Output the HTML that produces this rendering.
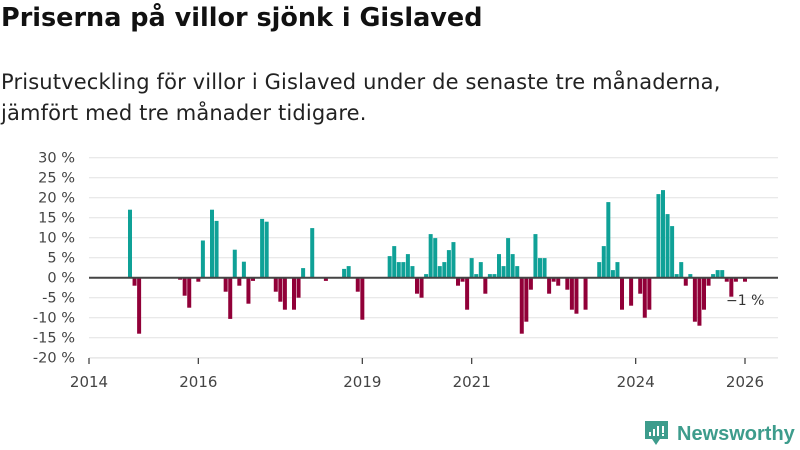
<!DOCTYPE html>
<html><head><meta charset="utf-8">
<style>
body{margin:0;background:#fff;font-family:"DejaVu Sans","Liberation Sans",sans-serif;}
#wrap{position:relative;width:800px;height:450px;overflow:hidden;}
h1{position:absolute;left:1px;top:3px;margin:0;font-size:25.5px;font-weight:bold;color:#111;letter-spacing:0px;}
.sub{position:absolute;left:1px;top:67px;margin:0;font-size:21px;line-height:31px;color:#222;letter-spacing:0.15px;}
svg{position:absolute;left:0;top:0;}
</style></head>
<body>
<div id="wrap">
<h1>Priserna på villor sjönk i Gislaved</h1>
<p class="sub">Prisutveckling för villor i Gislaved under de senaste tre månaderna,<br>jämfört med tre månader tidigare.</p>
<svg id="chart" width="800" height="450"></svg>
</div>
<script>
// months since Jan 2014
const months = [9,10,11,20,21,22,24,25,27,28,30,31,32,33,34,35,36,38,39,41,42,43,45,46,47,49,52,56,57,59,60,66,67,68,69,70,71,72,73,74,75,76,77,78,79,80,81,82,83,84,85,86,87,88,89,90,91,92,93,94,95,96,97,98,99,100,101,102,103,105,106,107,109,112,113,114,115,116,117,119,121,122,123,125,126,127,128,129,130,131,132,133,134,135,136,137,138,139,140,141,142,144];
const values = [17,-2,-14,-0.5,-4.5,-7.5,-1,9.3,17,14.2,-3.5,-10.3,7,-2,4,-6.5,-0.8,14.7,14,-3.5,-6,-8,-8,-5,2.4,12.4,-0.8,2.2,2.9,-3.5,-10.5,5.4,7.9,3.9,3.9,5.9,2.9,-4,-5,0.9,10.9,9.9,2.9,3.9,6.9,8.9,-2,-1,-8,4.9,0.9,3.9,-4,0.9,0.9,5.9,2.9,9.9,5.9,2.9,-14,-11,-3,10.9,4.9,4.9,-4,-1,-2,-3,-8,-9,-8,3.9,7.9,18.9,1.9,3.9,-8,-7,-4,-10,-8,20.9,21.9,15.9,12.9,0.9,3.9,-2,0.9,-11,-12,-8,-2,0.9,1.9,1.9,-1,-4.75,-1,-1];
const yTicks = [30,25,20,15,10,5,0,-5,-10,-15,-20];
const xTickYears = [2014,2016,2019,2021,2024,2026];
const lastLabel = "−1 %";

const NS="http://www.w3.org/2000/svg";
const svg=document.getElementById('chart');
const FONT='DejaVu Sans, Liberation Sans, sans-serif';
const x0=89, pxPerMonth=(745-89)/144;
const xScale=m=>x0+m*pxPerMonth;
const yScale=v=>277.7-v*4;
function mk(t,a){const e=document.createElementNS(NS,t);for(const k in a)e.setAttribute(k,a[k]);svg.appendChild(e);return e;}

yTicks.forEach(v=>{
  const g=mk('line',{x1:89,x2:778,y1:yScale(v),y2:yScale(v),stroke:'#e2e2e2','stroke-width':1});
  
  
  const t=mk('text',{x:75,y:yScale(v)+5,'text-anchor':'end','font-size':14.5,fill:'#444','font-family':FONT});
  t.textContent=(v<0?'-':'')+Math.abs(v)+' %';
  
  
});
const ax=mk('line',{x1:89,x2:778,y1:358,y2:358,stroke:'#e2e2e2','stroke-width':1});


xTickYears.forEach(y=>{
  const x=xScale((y-2014)*12);
  const l=mk('line',{x1:x,x2:x,y1:358,y2:364,stroke:'#444','stroke-width':1.3});
  
  
  const t=mk('text',{x:x,y:387,'text-anchor':'middle','font-size':15,fill:'#444','font-family':FONT});
  t.textContent=y;
  
  
});
months.forEach((m,i)=>{
  const v=values[i];
  const y1=yScale(Math.max(v,0)), y2=yScale(Math.min(v,0));
  const r=mk('rect',{x:xScale(m)-2,y:y1,width:4,height:Math.max(y2-y1,0.5),fill:v>=0?'#0fa197':'#910038'});
  
  
});
const zl=mk('line',{x1:89,x2:778,y1:yScale(0),y2:yScale(0),stroke:'#444','stroke-width':2});


const lm=months[months.length-1];
const lbl=mk('text',{x:xScale(lm)-19,y:305,'font-size':14,fill:'#333','font-family':FONT});
lbl.textContent=lastLabel;



// logo
const lg=mk('g',{});


const ic=document.createElementNS(NS,'path');
ic.setAttribute('d','M645 421 h23 v18 h-8 l-4 6 l-4 -6 h-7 z');
ic.setAttribute('fill','#3d9c8c');
lg.appendChild(ic);
[[649,432,2,4],[653,429,2,7],[657,426,2,10],[662,426,2,7],[662,434,2,2]].forEach(b=>{
  const r=document.createElementNS(NS,'rect');
  r.setAttribute('x',b[0]);r.setAttribute('y',b[1]);r.setAttribute('width',b[2]);r.setAttribute('height',b[3]);r.setAttribute('fill','#fff');
  lg.appendChild(r);
});
const lt=document.createElementNS(NS,'text');
lt.setAttribute('x',677);lt.setAttribute('y',440);lt.setAttribute('font-size',20);lt.setAttribute('font-weight','bold');
lt.setAttribute('fill','#3d9c8c');lt.setAttribute('font-family','Liberation Sans, sans-serif');
lt.textContent='Newsworthy';
lg.appendChild(lt);
</script>
</body></html>
